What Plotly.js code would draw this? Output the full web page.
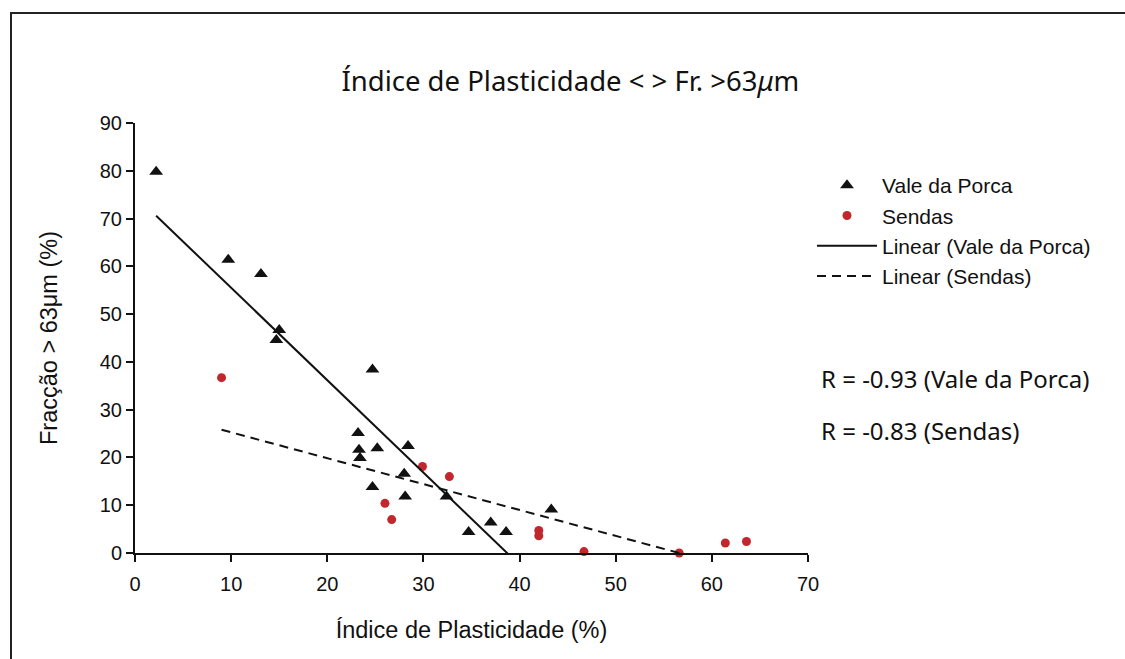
<!DOCTYPE html>
<html>
<head>
<meta charset="utf-8">
<script src="https://cdn.plot.ly/plotly-3.0.1.min.js"></script>
<style>
html,body{margin:0;padding:0;background:#fff;}
#chart{width:1125px;height:659px;}
</style>
</head>
<body>
<div id="chart"></div>
<script>
// Vale da Porca (triangles)
const valeX = [2.2, 9.7, 13.1, 15.0, 14.7, 24.7, 23.2, 23.3, 23.4, 25.2, 28.4, 28.0, 24.7, 28.1, 32.4, 34.7, 37.0, 38.6, 43.3];
const valeY = [79.8, 61.4, 58.4, 46.7, 44.6, 38.4, 25.1, 21.6, 19.9, 21.9, 22.4, 16.6, 13.8, 11.8, 11.8, 4.4, 6.4, 4.4, 9.1];
// Sendas (red circles)
const sendasX = [9.0, 29.9, 32.7, 26.0, 26.7, 42.0, 42.0, 46.7, 56.6, 61.4, 63.6];
const sendasY = [36.7, 18.1, 16.0, 10.4, 7.0, 4.7, 3.6, 0.3, 0.0, 2.1, 2.4];
// Linear trend lines (slope, intercept)
const valeTrend = {slope: -1.934, intercept: 74.85};
const sendasTrend = {slope: -0.542, intercept: 30.68};
const rLabels = ["R = -0.93 (Vale da Porca)", "R = -0.83 (Sendas)"];
const xTicks = [0, 10, 20, 30, 40, 50, 60, 70];
const yTicks = [0, 10, 20, 30, 40, 50, 60, 70, 80, 90];

function trendLine(xs, t) {
  const x0 = Math.min(...xs), x1 = Math.max(...xs);
  return {x: [x0, x1], y: [t.intercept + t.slope * x0, t.intercept + t.slope * x1]};
}
const vt = trendLine(valeX, valeTrend);
const st = trendLine(sendasX, sendasTrend);

const arial = "Liberation Sans, Arial, sans-serif";
const tickFont = {family: arial, size: 20, color: "#111"};
const humanFont = "Noto Sans, Lato, sans-serif";

const traces = [
  {x: valeX, y: valeY, mode: "markers", type: "scatter", name: "Vale da Porca",
   marker: {symbol: "triangle-up", size: 12, color: "#111"}, cliponaxis: false},
  {x: sendasX, y: sendasY, mode: "markers", type: "scatter", name: "Sendas",
   marker: {symbol: "circle", size: 9, color: "#c1272d"}, cliponaxis: false},
  {x: vt.x, y: vt.y, mode: "lines", type: "scatter", name: "Linear (Vale da Porca)",
   line: {color: "#111", width: 2}},
  {x: st.x, y: st.y, mode: "lines", type: "scatter", name: "Linear (Sendas)",
   line: {color: "#111", width: 2, dash: "9px,6px"}}
];

const px2x = px => (px - 135) / 673;
const px2y = py => (553 - py) / 430;

const layout = {
  width: 1125, height: 659,
  margin: {l: 135, r: 317, t: 123, b: 106},
  paper_bgcolor: "#fff", plot_bgcolor: "#fff",
  showlegend: true,
  title: {text: "Índice de Plasticidade &lt; &gt; Fr. &gt;63<i>μ</i>m", font: {family: humanFont, size: 27.5, color: "#111"},
          x: 0.507, xanchor: "center", y: 0.876, yanchor: "middle"},
  xaxis: {range: [0, 70], tickvals: xTicks, ticktext: xTicks.map(String), showgrid: false, zeroline: false,
          showline: true, linecolor: "#111", linewidth: 2, ticks: "outside", ticklen: 7, tickwidth: 2, tickcolor: "#111",
          tickfont: tickFont, ticklabelstandoff: 5, fixedrange: true,
          title: {text: "Índice de Plasticidade (%)", font: {family: arial, size: 23.5, color: "#111"}, standoff: 28}},
  yaxis: {range: [0, 90], tickvals: yTicks, ticktext: yTicks.map(String), showgrid: false, zeroline: false,
          showline: true, linecolor: "#111", linewidth: 2, ticks: "outside", ticklen: 7, tickwidth: 2, tickcolor: "#111",
          tickfont: tickFont, fixedrange: true,
          title: {text: "Fracção &gt; 63μm (%)", font: {family: arial, size: 23.5, color: "#111"}, standoff: 36}},
  legend: {x: px2x(812), y: px2y(165), xanchor: "left", yanchor: "top",
           font: {family: arial, size: 21, color: "#111"},
           bgcolor: "rgba(0,0,0,0)", tracegroupgap: 0, itemwidth: 60},
  annotations: [
    {xref: "paper", yref: "paper", x: px2x(819), y: px2y(378), xanchor: "left", yanchor: "middle",
     text: rLabels[0], showarrow: false, font: {family: humanFont, size: 24, color: "#111"}},
    {xref: "paper", yref: "paper", x: px2x(819), y: px2y(430), xanchor: "left", yanchor: "middle",
     text: rLabels[1], showarrow: false, font: {family: humanFont, size: 24, color: "#111"}}
  ],
  shapes: [
    {type: "path", xref: "paper", yref: "paper", layer: "below",
     path: `M ${px2x(11)} ${px2y(680)} L ${px2x(11)} ${px2y(13)} L ${px2x(1140)} ${px2y(13)}`,
     line: {color: "#222", width: 2}}
  ]
};

Plotly.newPlot("chart", traces, layout, {displayModeBar: false, staticPlot: true});
</script>
</body>
</html>
